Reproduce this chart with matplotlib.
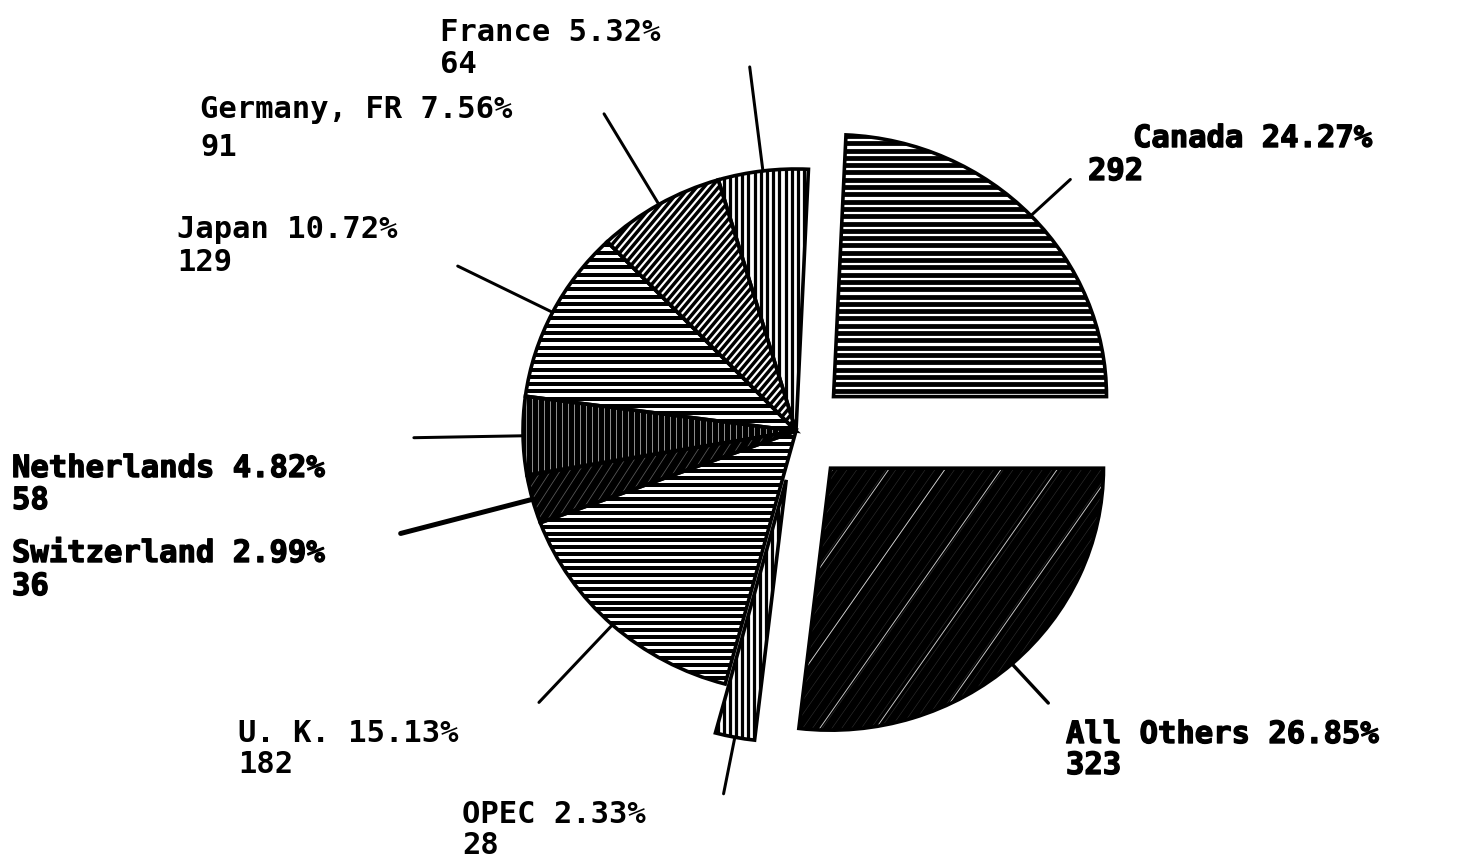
# Hatched, exploded pie chart of trade partners
import numpy as np
import matplotlib.pyplot as plt
import matplotlib.patheffects as pe
from matplotlib.collections import LineCollection

# ── data (counter-clockwise from 3 o'clock) ──────────────────────────────────
names = ["Canada", "France", "Germany, FR", "Japan", "Netherlands",
         "Switzerland", "U. K.", "OPEC", "All Others"]
values = [292, 64, 91, 129, 58, 36, 182, 28, 323]

# ── layout / style ───────────────────────────────────────────────────────────
W, H, DPI = 1466, 862, 100
CX, CY = 796, 432            # pie centre in image pixels (y from top)
SX, SY = 273, 262            # pixels per data unit (slightly squashed pie)
PT = 72.0 / DPI              # points per pixel

explode = [0.19, 0, 0, 0, 0, 0, 0, 0.19, 0.19]
heavy = [True, False, False, False, True, True, False, False, True]
leader_end = [1.39, 1.40, 1.40, 1.39, 1.40, 1.50, 1.40, 1.41, 1.39]
leader_lw = [3.0, 3.0, 3.0, 3.0, 3.0, 5.0, 3.0, 3.0, 3.4]   # px
# top-left corners of the name line and the value line, image pixels
label_pos = [(1133, 125, 1088, 158), (440, 18, 440, 50), (200, 95, 200, 133),
             (177, 215, 177, 248), (12, 455, 12, 487), (12, 540, 12, 573),
             (238, 719, 238, 750), (462, 800, 462, 831), (1066, 721, 1066, 752)]
# face, [(hatch angle, spacing px, line width px, colour, alpha), ...]
hatches = [("white", [(0, 7.3, 4.8, "black", 1)]),
           ("white", [(90, 6.2, 3.2, "black", 1)]),
           ("white", [(50, 5.6, 3.4, "black", 1)]),
           ("white", [(0, 7.3, 4.0, "black", 1)]),
           ("black", [(90, 6.0, 1.0, "white", 0.55)]),
           ("black", [(57, 8.0, 0.8, "white", 0.35)]),
           ("white", [(0, 6.9, 4.0, "black", 1)]),
           ("white", [(90, 6.0, 3.2, "black", 1)]),
           ("black", [(55, 46.0, 0.9, "white", 0.8),
                      (55, 8.0, 0.6, "white", 0.18)])]


def px2data(x, y):
    return (x - CX) / SX, (CY - y) / SY


def hatch(ax, patch, angle, spacing, lw, color, alpha):
    # straight lines across the whole picture, clipped to the wedge
    t = np.deg2rad(angle)
    d = np.array([np.cos(t), np.sin(t)])
    n = np.array([-np.sin(t), np.cos(t)])
    L = 1800
    segs = []
    for o in np.arange(-L, L, spacing):
        a = n * o - d * L
        b = n * o + d * L
        segs.append([(a[0] / SX, a[1] / SY), (b[0] / SX, b[1] / SY)])
    lc = LineCollection(segs, colors=color, linewidths=lw * PT,
                        alpha=alpha, zorder=2)
    ax.add_collection(lc)
    lc.set_clip_path(patch)


fig = plt.figure(figsize=(W / DPI, H / DPI), dpi=DPI)
fig.patch.set_facecolor("white")
ax = fig.add_axes([0, 0, 1, 1])

faces = [h[0] for h in hatches]
wedges, _ = ax.pie(values, explode=explode, startangle=0, counterclock=True,
                   colors=faces, wedgeprops=dict(linewidth=0, zorder=1))
ax.pie(values, explode=explode, startangle=0, counterclock=True,
       wedgeprops=dict(fill=False, edgecolor="black", linewidth=3.6 * PT,
                       joinstyle="miter", zorder=3))

for w, (face, specs) in zip(wedges, hatches):
    for ang, sp, lw, col, al in specs:
        hatch(ax, w, ang, sp, lw, col, al)

total = sum(values)
for i, w in enumerate(wedges):
    mid = np.deg2rad((w.theta1 + w.theta2) / 2)
    r0 = 1 + explode[i]
    r1 = leader_end[i]
    ax.plot([r0 * np.cos(mid), r1 * np.cos(mid)],
            [r0 * np.sin(mid), r1 * np.sin(mid)],
            color="black", lw=leader_lw[i] * PT, solid_capstyle="round",
            zorder=4)

    pct = values[i] / total * 100
    x1, y1, x2, y2 = label_pos[i]
    effects = [pe.withStroke(linewidth=1.0, foreground="black")] if heavy[i] else []
    style = dict(ha="left", va="top", fontsize=22, family="DejaVu Sans Mono",
                 fontweight="bold", color="black", path_effects=effects)
    ax.text(*px2data(x1, y1), f"{names[i]} {pct:.2f}%", **style)
    ax.text(*px2data(x2, y2), f"{values[i]}", **style)

ax.set_aspect("auto")
ax.set_xlim(-CX / SX, (W - CX) / SX)
ax.set_ylim((CY - H) / SY, CY / SY)
ax.axis("off")

plt.savefig("out.png", dpi=DPI, facecolor=fig.get_facecolor())
